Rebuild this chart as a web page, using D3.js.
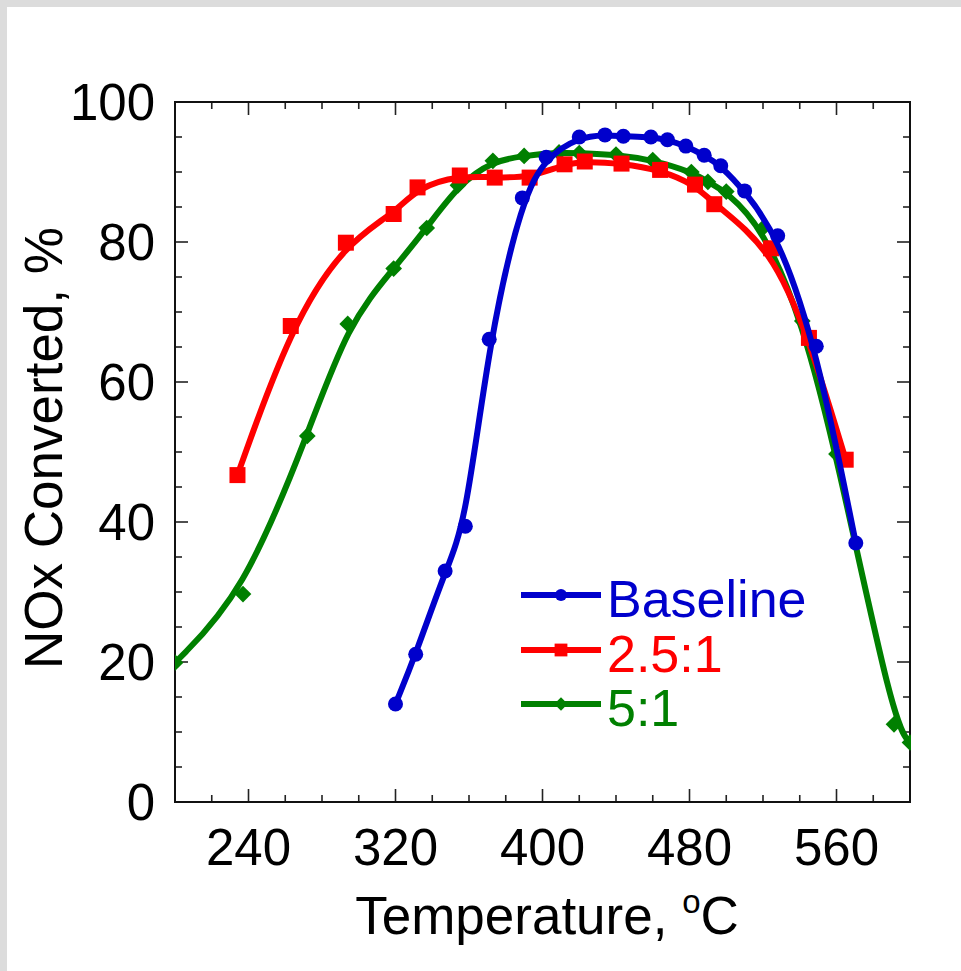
<!DOCTYPE html>
<meta charset="utf-8">
<script src="https://d3js.org/d3.v7.min.js"></script>
<style>
  body { margin: 0; background: #dcdcdc; }
  svg { display: block; }
  text { font-family: "Liberation Sans", Arial, sans-serif; }
</style>
<body>
<div id="vis"></div>
<script>
  // baseline (blue circles): [temperature, % converted]
  var baselineData = [
    [320, 14.0], [331, 21.1], [347, 33.0], [358, 39.4], [371, 66.1], [389, 86.3],
    [402, 92.1], [420, 95.0], [434, 95.3], [444, 95.1], [459, 95.0], [468, 94.6],
    [478, 93.7], [488, 92.4], [497, 90.9], [510, 87.3], [528, 80.9], [549, 65.1],
    [570.5, 37.0]
  ]
  // 2.5:1 (red squares)
  var ratio25Data = [
    [234, 46.7], [263, 68.0], [293, 79.9], [319, 84.0], [332, 87.8], [355, 89.5],
    [374, 89.2], [393, 89.2], [412, 91.1], [423, 91.5], [443, 91.2], [464, 90.3],
    [483, 88.2], [493.5, 85.4], [524.4, 79.1], [545, 66.3], [565, 48.9]
  ]
  // 5:1 (green diamonds)
  var ratio5Data = [
    [200, 19.9], [237, 29.7], [272, 52.3], [294, 68.3], [319, 76.2], [337, 82.0],
    [354, 88.1], [373, 91.6], [390, 92.3], [409, 92.8], [420, 92.7], [440, 92.5],
    [460, 91.7], [481, 90.0], [490, 88.6], [500, 87.2], [520, 82.0], [541.4, 68.7],
    [560, 49.7], [591.3, 11.1], [600, 8.5]
  ]

  var seriesNames = ["Baseline", "2.5:1", "5:1"]
  var seriesColors = ["#0000cc", "#ff0000", "#008000"]
  var xTicks = [240, 320, 400, 480, 560]
  var yTicks = [0, 20, 40, 60, 80, 100]

  var W = 961, H = 971
  var margin = {top: 102, right: 51, bottom: 169, left: 175}
  var width = W - margin.left - margin.right,
      height = H - margin.top - margin.bottom

  var svg = d3.select("#vis").append("svg")
    .attr("width", W).attr("height", H)

  // gray frame on top and left
  svg.append("rect").attr("x", 7).attr("y", 7)
    .attr("width", W - 7).attr("height", H - 7).attr("fill", "white")

  var g = svg.append("g")
    .attr("transform", "translate(" + margin.left + "," + margin.top + ")")

  var x = d3.scaleLinear().domain([200, 600]).range([0, width])
  var y = d3.scaleLinear().domain([0, 100]).range([height, 0])

  // ticks, inward on all four sides
  var minorX = d3.range(200, 601, 20)
  var minorY = d3.range(0, 101, 5)

  function tickLen(v, step) { return v % step == 0 ? 13 : 7 }

  g.selectAll(".xtb").data(minorX).enter().append("line")
    .attr("x1", d => x(d)).attr("x2", d => x(d))
    .attr("y1", height).attr("y2", d => height - tickLen(d - 240, 80))
    .attr("stroke", "#222").attr("stroke-width", 1.6)
  g.selectAll(".xtt").data(minorX).enter().append("line")
    .attr("x1", d => x(d)).attr("x2", d => x(d))
    .attr("y1", 0).attr("y2", d => tickLen(d - 240, 80))
    .attr("stroke", "#222").attr("stroke-width", 1.6)
  g.selectAll(".ytl").data(minorY).enter().append("line")
    .attr("y1", d => y(d)).attr("y2", d => y(d))
    .attr("x1", 0).attr("x2", d => tickLen(d, 20))
    .attr("stroke", "#222").attr("stroke-width", 1.6)
  g.selectAll(".ytr").data(minorY).enter().append("line")
    .attr("y1", d => y(d)).attr("y2", d => y(d))
    .attr("x1", width).attr("x2", d => width - tickLen(d, 20))
    .attr("stroke", "#222").attr("stroke-width", 1.6)

  g.append("rect").attr("width", width).attr("height", height)
    .attr("fill", "none").attr("stroke", "#111").attr("stroke-width", 2)

  // tick labels
  g.selectAll(".xl").data(xTicks).enter().append("text")
    .attr("x", d => x(d)).attr("y", height + 63)
    .attr("text-anchor", "middle").attr("font-size", 51).text(d => d)
  g.selectAll(".yl").data(yTicks).enter().append("text")
    .attr("x", -20).attr("y", d => y(d) + 18)
    .attr("text-anchor", "end").attr("font-size", 51).text(d => d)

  // axis titles
  var xt = svg.append("text")
    .attr("x", 547).attr("y", 934).attr("text-anchor", "middle")
    .attr("font-size", 53)
  xt.append("tspan").text("Temperature, ")
  xt.append("tspan").attr("font-size", 33).attr("dy", -21).text("o")
  xt.append("tspan").attr("dy", 21).text("C")

  svg.append("text")
    .attr("transform", "translate(62,448) rotate(-90)")
    .attr("text-anchor", "middle").attr("font-size", 53)
    .text("NOx Converted, %")

  // plot area clip
  svg.append("clipPath").attr("id", "clip")
    .append("rect").attr("width", width + 1).attr("height", height)

  var line = d3.line()
    .x(d => x(d[0])).y(d => y(d[1]))
    .curve(d3.curveBasis)

  var plot = g.append("g").attr("clip-path", "url(#clip)")

  function marker(sel, i, s) {
    if (i == 0) {
      sel.append("circle").attr("r", 7.5 * s).attr("fill", seriesColors[0])
    } else if (i == 1) {
      sel.append("rect").attr("x", -8 * s).attr("y", -8 * s)
        .attr("width", 16 * s).attr("height", 16 * s).attr("fill", seriesColors[1])
    } else {
      sel.append("path").attr("d", d3.symbol(d3.symbolSquare, 140 * s * s)())
        .attr("transform", "rotate(45)").attr("fill", seriesColors[2])
    }
  }

  var allData = [baselineData, ratio25Data, ratio5Data]

  // draw back to front: green, red, blue
  ;[2, 1, 0].forEach(function(i) {
    plot.append("path").datum(allData[i])
      .attr("d", line).attr("fill", "none")
      .attr("stroke", seriesColors[i]).attr("stroke-width", 6)
    plot.selectAll(".m" + i).data(allData[i]).enter().append("g")
      .attr("transform", d => "translate(" + x(d[0]) + "," + y(d[1]) + ")")
      .each(function() { marker(d3.select(this), i, 1) })
  })

  // legend
  var legendY = [595, 650, 704]
  seriesNames.forEach(function(name, i) {
    var lg = svg.append("g").attr("transform", "translate(0," + legendY[i] + ")")
    lg.append("line").attr("x1", 521).attr("x2", 601)
      .attr("stroke", seriesColors[i]).attr("stroke-width", 6)
    var m = lg.append("g").attr("transform", "translate(561,0)")
    marker(m, i, 0.8)
    lg.append("text").attr("x", 607).attr("y", 22)
      .attr("font-size", 52).attr("fill", seriesColors[i]).text(name)
  })
</script>
</body>
